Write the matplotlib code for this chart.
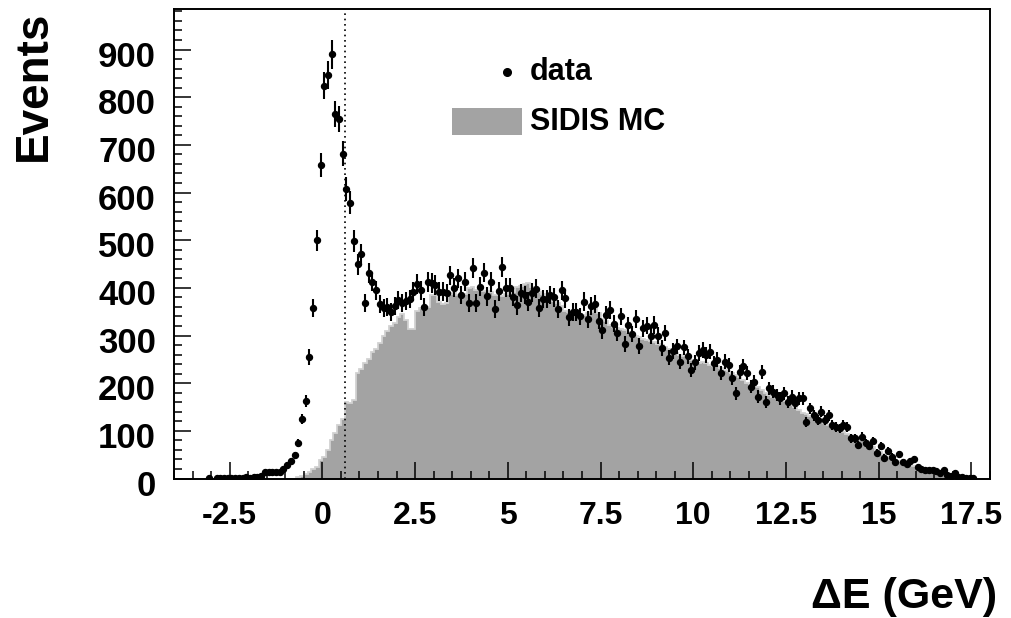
import matplotlib

matplotlib.use("Agg")
import matplotlib.pyplot as plt
import matplotlib.transforms as mtransforms
from matplotlib.patches import Rectangle
from matplotlib.ticker import MultipleLocator
import numpy as np

# binning of both histograms (GeV)
x_min, x_max, bin_width = -4.0, 18.0, 0.1
cut_value = 0.6

# data counts per 0.1 GeV bin, from -4.0 to 18.0
data_counts = [
    0, 0, 0, 0, 0, 0, 0, 0, 0, 1,            # -3.95 .. -3.05
    0, 1, 2, 2, 1, 2, 2, 1, 2, 3,            # -2.95 .. -2.05
    2, 3, 4, 5, 13, 13, 13, 13, 13, 20,      # -1.95 .. -1.05
    29, 37, 49, 74, 125, 163, 255, 358, 500, 658,   # -0.95 .. -0.05
    824, 846, 890, 765, 755, 681, 607, 579, 498, 449,  # 0.05 .. 0.95
    470, 368, 431, 413, 395, 366, 358, 359, 350, 362,  # 1.05 .. 1.95
    374, 368, 373, 377, 392, 408, 395, 360, 412, 410,  # 2.05 .. 2.95
    406, 392, 392, 389, 426, 400, 420, 385, 413, 368,  # 3.05 .. 3.95
    441, 368, 402, 432, 382, 412, 355, 393, 444, 400,  # 4.05 .. 4.95
    400, 381, 363, 389, 385, 371, 390, 398, 358, 377,  # 5.05 .. 5.95
    377, 385, 380, 355, 395, 378, 338, 350, 350, 340,  # 6.05 .. 6.95
    371, 334, 362, 366, 331, 311, 343, 354, 325, 305,  # 7.05 .. 7.95
    340, 282, 321, 303, 335, 278, 315, 320, 300, 322,  # 8.05 .. 8.95
    300, 273, 305, 253, 268, 277, 245, 275, 256, 228,  # 9.05 .. 9.95
    244, 263, 270, 259, 266, 242, 249, 221, 245, 238,  # 10.05 .. 10.95
    210, 179, 224, 235, 221, 193, 203, 172, 224, 161,  # 11.05 .. 11.95
    189, 182, 175, 168, 179, 161, 172, 158, 168, 168,  # 12.05 .. 12.95
    119, 147, 133, 123, 140, 123, 133, 112, 109, 105,  # 13.05 .. 13.95
    112, 109, 84, 84, 70, 88, 75, 68, 79, 54,          # 14.05 .. 14.95
    69, 44, 58, 46, 35, 51, 35, 30, 37, 40,            # 15.05 .. 15.95
    25, 20, 18, 18, 18, 16, 11, 18, 7, 5,              # 16.05 .. 16.95
    12, 4, 3, 2, 1, 1, 0, 0, 0, 0,                     # 17.05 .. 17.95
]

# SIDIS Monte Carlo per 0.1 GeV bin, same binning
mc_counts = [0] * 33 + [
    3, 5, 10, 13, 20, 24, 38,                          # -0.65 .. -0.05
    45, 60, 80, 95, 112, 125, 160, 158, 165, 222,      # 0.05 .. 0.95
    230, 242, 250, 266, 272, 285, 298, 310, 319, 326,  # 1.05 .. 1.95
    338, 345, 333, 313, 313, 352, 357, 358, 360, 384,  # 2.05 .. 2.95
    385, 370, 366, 368, 388, 389, 386, 390, 387, 399,  # 3.05 .. 3.95
    401, 395, 396, 393, 394, 392, 384, 386, 383, 388,  # 4.05 .. 4.95
    389, 392, 401, 404, 408, 410, 402, 395, 392, 388,  # 5.05 .. 5.95
    383, 380, 372, 368, 362, 352, 349, 347, 345, 346,  # 6.05 .. 6.95
    343, 348, 350, 358, 347, 334, 330, 322, 318, 316,  # 7.05 .. 7.95
    313, 312, 308, 305, 300, 296, 292, 290, 288, 286,  # 8.05 .. 8.95
    283, 280, 276, 272, 268, 264, 260, 256, 252, 248,  # 9.05 .. 9.95
    245, 243, 245, 243, 239, 237, 235, 232, 228, 225,  # 10.05 .. 10.95
    221, 217, 212, 206, 200, 196, 196, 192, 186, 180,  # 11.05 .. 11.95
    175, 172, 168, 165, 162, 160, 155, 150, 144, 138,  # 12.05 .. 12.95
    135, 132, 128, 124, 121, 117, 113, 108, 103, 100,  # 13.05 .. 13.95
    97, 94, 91, 89, 84, 80, 78, 74, 66, 60,            # 14.05 .. 14.95
    56, 52, 46, 42, 39, 36, 34, 32, 31, 26,            # 15.05 .. 15.95
    22, 18, 16, 14, 12, 10, 9, 8, 6, 5,                # 16.05 .. 16.95
    4, 3, 2, 1, 1, 0, 0, 0, 0, 0,                      # 17.05 .. 17.95
]

x_ticks = [-2.5, 0, 2.5, 5, 7.5, 10, 12.5, 15, 17.5]
x_tick_labels = ["-2.5", "0", "2.5", "5", "7.5", "10", "12.5", "15", "17.5"]
y_ticks = list(range(0, 1000, 100))

FONT = "Liberation Sans"
MC_GREY = "#a3a3a3"
MC_EDGE = "#d2d2d2"

edges = np.round(np.arange(x_min, x_max + bin_width / 2, bin_width), 3)
centers = 0.5 * (edges[:-1] + edges[1:])
data = np.array(data_counts, dtype=float)
mc = np.array(mc_counts, dtype=float)
assert len(data) == len(centers) and len(mc) == len(centers)

fig = plt.figure(figsize=(10.12, 6.18), dpi=100)
ax = fig.add_axes([174 / 1012, 1 - 478.5 / 618, 816 / 1012, 469.5 / 618])

ax.stairs(mc, edges, fill=True, color=MC_GREY, linewidth=0, zorder=1)
ax.stairs(mc, edges, color=MC_EDGE, linewidth=1.3, zorder=1.5)

ax.axvline(cut_value, color="black", linestyle=(0, (1, 2.2)), linewidth=1.2, zorder=2)

shown = data > 0
ax.errorbar(
    centers[shown], data[shown], yerr=np.sqrt(data[shown]),
    fmt="o", color="black", markersize=4.3, elinewidth=1.5, capsize=0, zorder=3,
)

ax.set_xlim(x_min, x_max)
ax.set_ylim(0, 985)
ax.set_xticks(x_ticks)
ax.set_xticklabels(x_tick_labels)
ax.set_yticks(y_ticks)
ax.xaxis.set_minor_locator(MultipleLocator(0.5))
ax.yaxis.set_minor_locator(MultipleLocator(20))
ax.tick_params(which="both", direction="in", top=False, right=False, width=1.1, color="black")
ax.tick_params(which="major", length=12)
ax.tick_params(which="minor", length=6)
ax.tick_params(axis="x", pad=16)
ax.tick_params(axis="y", pad=13)
for spine in ax.spines.values():
    spine.set_linewidth(1.4)

for label in ax.get_xticklabels():
    label.set_fontfamily(FONT)
    label.set_fontweight("bold")
    label.set_fontsize(23)
for label in ax.get_yticklabels():
    label.set_fontfamily(FONT)
    label.set_fontweight("bold")
    label.set_fontsize(25)
    shift = mtransforms.ScaledTranslation(0, -4 / 100, fig.dpi_scale_trans)
    label.set_transform(label.get_transform() + shift)

fig.text(34 / 1012, 1 - 11 / 618, "Events", rotation=90, ha="center", va="top",
         fontsize=33, fontweight="bold", fontfamily=FONT)
fig.text(997 / 1012, 1 - 597 / 618, "\u0394E (GeV)", ha="right", va="center",
         fontsize=31, fontweight="bold", fontfamily=FONT)

# legend drawn by hand, ROOT style
ax.plot([0.408], [0.866], "o", color="black", markersize=5.5, transform=ax.transAxes, zorder=4)
ax.text(0.436, 0.866, "data", transform=ax.transAxes, ha="left", va="center",
        fontsize=22, fontweight="bold", fontfamily=FONT)
ax.add_patch(Rectangle((0.341, 0.732), 0.085, 0.057, transform=ax.transAxes,
                       facecolor=MC_GREY, edgecolor="none", zorder=4))
ax.text(0.436, 0.759, "SIDIS MC", transform=ax.transAxes, ha="left", va="center",
        fontsize=22, fontweight="bold", fontfamily=FONT)

fig.savefig("out.png", dpi=100)
plt.close(fig)
